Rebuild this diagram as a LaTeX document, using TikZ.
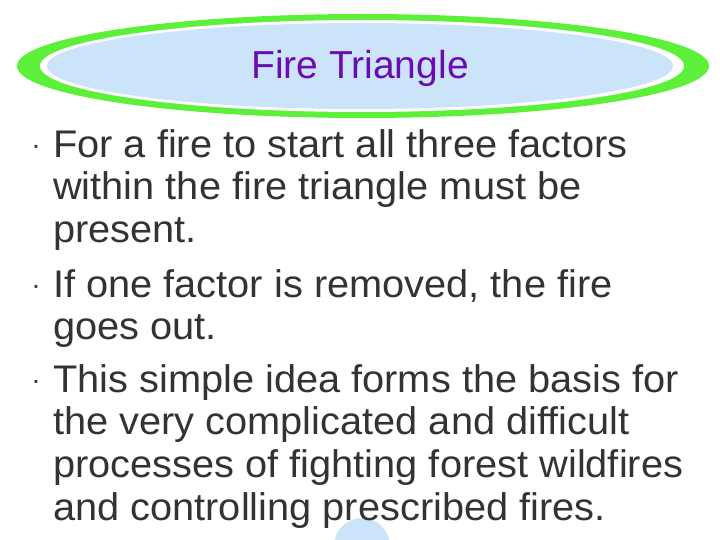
\documentclass[tikz,border=0pt]{standalone}
\usepackage{fontspec}
\setmainfont{Liberation Sans}
\definecolor{lgreen}{HTML}{5CF03A}
\definecolor{lblue}{HTML}{CCE4FA}
\definecolor{ttl}{HTML}{6A0CB0}
\definecolor{txt}{HTML}{333333}
\begin{document}
\begin{tikzpicture}[x=1pt,y=-1pt,
  line/.style={anchor=base west,inner sep=0pt,font=\fontsize{38.5}{40}\selectfont\addfontfeature{FakeStretch=1.033},text=txt},
  bul/.style={anchor=base,inner sep=0pt,font=\fontsize{28}{28}\selectfont,text=txt}]
\useasboundingbox (0,0) rectangle (720,540);
\fill[lgreen] (363,66) ellipse [x radius=346, y radius=52];
\fill[white] (362,66) ellipse [x radius=322, y radius=46];
\fill[lblue] (360,66) ellipse [x radius=313, y radius=43];
\node[inner sep=0pt,font=\fontsize{39}{44}\selectfont,text=ttl] (title) at (360,68) {Fire Triangle};
\fill[lblue] (362,546) circle [radius=28];
\node[bul] (b1) at (36,155) {·};
\node[bul] (b2) at (36,294) {·};
\node[bul] (b3) at (36,389) {·};
\node[line] (l1) at (53,158) {For a fire to start all three factors};
\node[line] (l2) at (53,200) {within the fire triangle must be};
\node[line] (l3) at (53,243) {present.};
\node[line] (l4) at (53,297) {If one factor is removed, the fire};
\node[line] (l5) at (53,339) {goes out.};
\node[line] (l6) at (53,392) {This simple idea forms the basis for};
\node[line] (l7) at (53,434) {the very complicated and difficult};
\node[line] (l8) at (53,477) {processes of fighting forest wildfires};
\node[line] (l9) at (53,520) {and controlling prescribed fires.};
\end{tikzpicture}
\end{document}
